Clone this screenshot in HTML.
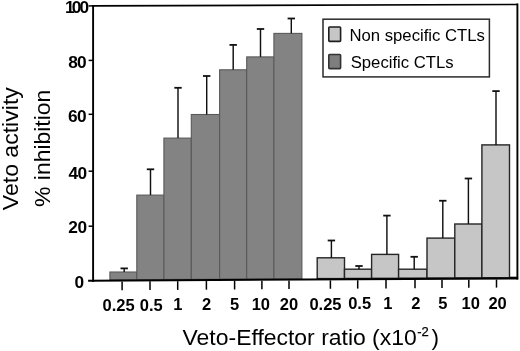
<!DOCTYPE html>
<html><head><meta charset="utf-8"><style>
html,body{margin:0;padding:0;background:#fff;}
svg{display:block;filter:blur(0.35px);}
text{font-family:"Liberation Sans",sans-serif;fill:#000;}
.yl{font-weight:bold;font-size:17.3px;}
.xl{font-weight:bold;font-size:16.5px;}
.lg{font-size:16.7px;}
.ti{font-size:22.7px;}
.sup{font-size:13px;stroke:#000;stroke-width:0.25px;}
</style></head><body>
<svg width="520" height="351" viewBox="0 0 520 351">
<rect x="109.90" y="272.00" width="26.90" height="7.69" fill="#838383" stroke="#5a5a5a" stroke-width="1.1"/>
<rect x="136.80" y="195.10" width="27.10" height="84.45" fill="#838383" stroke="#5a5a5a" stroke-width="1.1"/>
<rect x="163.90" y="138.10" width="27.40" height="141.30" fill="#838383" stroke="#5a5a5a" stroke-width="1.1"/>
<rect x="191.30" y="114.50" width="28.30" height="164.75" fill="#838383" stroke="#5a5a5a" stroke-width="1.1"/>
<rect x="219.60" y="69.80" width="27.10" height="209.31" fill="#838383" stroke="#5a5a5a" stroke-width="1.1"/>
<rect x="246.70" y="56.90" width="27.20" height="222.06" fill="#838383" stroke="#5a5a5a" stroke-width="1.1"/>
<rect x="273.90" y="33.40" width="28.00" height="245.42" fill="#838383" stroke="#5a5a5a" stroke-width="1.1"/>
<rect x="317.20" y="257.80" width="27.30" height="20.79" fill="#c6c6c6" stroke="#262626" stroke-width="1.4"/>
<rect x="344.50" y="269.20" width="27.10" height="9.24" fill="#c6c6c6" stroke="#262626" stroke-width="1.4"/>
<rect x="371.60" y="254.40" width="27.00" height="23.90" fill="#c6c6c6" stroke="#262626" stroke-width="1.4"/>
<rect x="398.60" y="269.20" width="28.40" height="8.95" fill="#c6c6c6" stroke="#262626" stroke-width="1.4"/>
<rect x="427.00" y="238.10" width="27.80" height="39.90" fill="#c6c6c6" stroke="#262626" stroke-width="1.4"/>
<rect x="454.80" y="224.00" width="27.10" height="53.86" fill="#c6c6c6" stroke="#262626" stroke-width="1.4"/>
<rect x="481.90" y="144.90" width="27.60" height="132.81" fill="#c6c6c6" stroke="#262626" stroke-width="1.4"/>
<line x1="124.20" y1="268.40" x2="124.20" y2="272.00" stroke="#111" stroke-width="1.45"/>
<line x1="120.50" y1="268.40" x2="127.90" y2="268.40" stroke="#111" stroke-width="1.8"/>
<line x1="150.50" y1="169.30" x2="150.50" y2="195.10" stroke="#111" stroke-width="1.45"/>
<line x1="146.80" y1="169.30" x2="154.20" y2="169.30" stroke="#111" stroke-width="1.8"/>
<line x1="178.00" y1="87.80" x2="178.00" y2="138.10" stroke="#111" stroke-width="1.45"/>
<line x1="174.30" y1="87.80" x2="181.70" y2="87.80" stroke="#111" stroke-width="1.8"/>
<line x1="206.70" y1="76.00" x2="206.70" y2="114.50" stroke="#111" stroke-width="1.45"/>
<line x1="203.00" y1="76.00" x2="210.40" y2="76.00" stroke="#111" stroke-width="1.8"/>
<line x1="233.20" y1="44.90" x2="233.20" y2="69.80" stroke="#111" stroke-width="1.45"/>
<line x1="229.50" y1="44.90" x2="236.90" y2="44.90" stroke="#111" stroke-width="1.8"/>
<line x1="260.50" y1="29.00" x2="260.50" y2="56.90" stroke="#111" stroke-width="1.45"/>
<line x1="256.80" y1="29.00" x2="264.20" y2="29.00" stroke="#111" stroke-width="1.8"/>
<line x1="291.30" y1="18.50" x2="291.30" y2="33.40" stroke="#111" stroke-width="1.45"/>
<line x1="287.60" y1="18.50" x2="295.00" y2="18.50" stroke="#111" stroke-width="1.8"/>
<line x1="331.40" y1="240.50" x2="331.40" y2="257.80" stroke="#111" stroke-width="1.45"/>
<line x1="327.70" y1="240.50" x2="335.10" y2="240.50" stroke="#111" stroke-width="1.8"/>
<line x1="359.00" y1="266.00" x2="359.00" y2="269.20" stroke="#111" stroke-width="1.45"/>
<line x1="355.30" y1="266.00" x2="362.70" y2="266.00" stroke="#111" stroke-width="1.8"/>
<line x1="386.90" y1="215.60" x2="386.90" y2="254.40" stroke="#111" stroke-width="1.45"/>
<line x1="383.20" y1="215.60" x2="390.60" y2="215.60" stroke="#111" stroke-width="1.8"/>
<line x1="414.20" y1="256.80" x2="414.20" y2="269.20" stroke="#111" stroke-width="1.45"/>
<line x1="410.50" y1="256.80" x2="417.90" y2="256.80" stroke="#111" stroke-width="1.8"/>
<line x1="442.80" y1="200.75" x2="442.80" y2="238.10" stroke="#111" stroke-width="1.45"/>
<line x1="439.10" y1="200.75" x2="446.50" y2="200.75" stroke="#111" stroke-width="1.8"/>
<line x1="468.40" y1="178.50" x2="468.40" y2="224.00" stroke="#111" stroke-width="1.45"/>
<line x1="464.70" y1="178.50" x2="472.10" y2="178.50" stroke="#111" stroke-width="1.8"/>
<line x1="496.00" y1="91.10" x2="496.00" y2="144.90" stroke="#111" stroke-width="1.45"/>
<line x1="492.30" y1="91.10" x2="499.70" y2="91.10" stroke="#111" stroke-width="1.8"/>
<line x1="92.2" y1="5.90" x2="518" y2="4.45" stroke="#000" stroke-width="1.6"/>
<line x1="88.1" y1="280.68" x2="518.2" y2="278.39" stroke="#000" stroke-width="2.0"/>
<line x1="93.1" y1="5" x2="93.1" y2="282" stroke="#000" stroke-width="1.9"/>
<line x1="517.4" y1="3.6" x2="517.4" y2="279.6" stroke="#000" stroke-width="1.9"/>
<rect x="509.6" y="276.7" width="7.6" height="2" fill="#000"/>
<line x1="88.6" y1="5.9" x2="93" y2="5.9" stroke="#000" stroke-width="1.5"/>
<line x1="88.6" y1="60.4" x2="93" y2="60.4" stroke="#000" stroke-width="1.5"/>
<line x1="88.6" y1="114.3" x2="93" y2="114.3" stroke="#000" stroke-width="1.5"/>
<line x1="88.6" y1="171.2" x2="93" y2="171.2" stroke="#000" stroke-width="1.5"/>
<line x1="88.6" y1="226.2" x2="93" y2="226.2" stroke="#000" stroke-width="1.5"/>
<line x1="122.1" y1="281.50" x2="122.1" y2="290.30" stroke="#000" stroke-width="1.5"/>
<line x1="150.0" y1="281.35" x2="150.0" y2="290.10" stroke="#000" stroke-width="1.5"/>
<line x1="177.7" y1="281.20" x2="177.7" y2="289.90" stroke="#000" stroke-width="1.5"/>
<line x1="206.4" y1="281.05" x2="206.4" y2="289.69" stroke="#000" stroke-width="1.5"/>
<line x1="234.6" y1="280.90" x2="234.6" y2="289.49" stroke="#000" stroke-width="1.5"/>
<line x1="261.9" y1="280.75" x2="261.9" y2="289.29" stroke="#000" stroke-width="1.5"/>
<line x1="289.0" y1="280.61" x2="289.0" y2="289.10" stroke="#000" stroke-width="1.5"/>
<line x1="330.4" y1="280.39" x2="330.4" y2="288.80" stroke="#000" stroke-width="1.5"/>
<line x1="357.7" y1="280.25" x2="357.7" y2="288.60" stroke="#000" stroke-width="1.5"/>
<line x1="386.0" y1="280.10" x2="386.0" y2="288.40" stroke="#000" stroke-width="1.5"/>
<line x1="415.0" y1="279.94" x2="415.0" y2="288.19" stroke="#000" stroke-width="1.5"/>
<line x1="442.0" y1="279.80" x2="442.0" y2="288.00" stroke="#000" stroke-width="1.5"/>
<line x1="468.8" y1="279.66" x2="468.8" y2="287.80" stroke="#000" stroke-width="1.5"/>
<line x1="496.5" y1="279.51" x2="496.5" y2="287.60" stroke="#000" stroke-width="1.5"/>
<text x="65.08 71.78 79.58" y="13.4" class="yl">100</text>
<text x="68.30 77.08" y="67.9" class="yl">80</text>
<text x="67.98 77.08" y="122.1" class="yl">60</text>
<text x="68.55 77.38" y="178.6" class="yl">40</text>
<text x="68.18 77.38" y="233.1" class="yl">20</text>
<text x="74.48" y="288.3" class="yl">0</text>
<text x="102.48" y="310.90" class="xl">0.25</text>
<text x="139.78" y="310.68" class="xl">0.5</text>
<text x="173.20" y="310.49" class="xl">1</text>
<text x="202.08" y="310.32" class="xl">2</text>
<text x="229.90" y="310.16" class="xl">5</text>
<text x="251.70" y="310.03" class="xl">10</text>
<text x="279.78" y="309.87" class="xl">20</text>
<text x="309.38" y="309.70" class="xl">0.25</text>
<text x="348.18" y="309.47" class="xl">0.5</text>
<text x="383.20" y="309.27" class="xl">1</text>
<text x="411.28" y="309.11" class="xl">2</text>
<text x="438.30" y="308.95" class="xl">5</text>
<text x="461.50" y="308.81" class="xl">10</text>
<text x="488.38" y="308.66" class="xl">20</text>
<rect x="323.0" y="19.2" width="166.4" height="57.7" fill="none" stroke="#2a2a2a" stroke-width="1.5"/>
<rect x="328.8" y="27.0" width="11.8" height="14.4" rx="0.8" fill="#c6c6c6" stroke="#1e1e1e" stroke-width="1.6"/>
<rect x="328.8" y="54.5" width="11.8" height="14.1" rx="0.8" fill="#7e7e7e" stroke="#333" stroke-width="1.6"/>
<text x="349.5" y="41" class="lg">Non specific CTLs</text>
<text x="350.7" y="68" class="lg">Specific CTLs</text>
<text transform="translate(18.2,210.2) rotate(-90) scale(1.016,1)" class="ti">Veto activity</text>
<text transform="translate(49.6,206.9) rotate(-90) scale(1.01,1)" class="ti">% inhibition</text>
<text transform="translate(182.58,344.6) scale(1.011,1)" class="ti">Veto-Effector ratio (x10</text>
<text x="417.30" y="335.6" class="sup">-</text>
<text x="421.38" y="335.6" class="sup">2</text>
<text x="431.38" y="344.6" class="ti">)</text>
</svg>
</body></html>
